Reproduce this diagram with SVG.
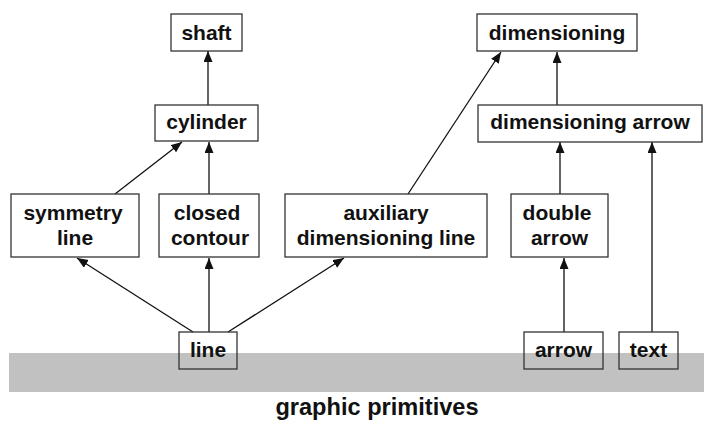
<svg xmlns="http://www.w3.org/2000/svg" width="704" height="423" viewBox="0 0 704 423">
<style>
.box{fill:none;stroke:#333;stroke-width:1.3}
.lbl{font-family:"Liberation Sans",Arial,sans-serif;font-weight:bold;font-size:21px;fill:#111;text-anchor:middle}
.edge{stroke:#111;stroke-width:1.3;fill:none;marker-end:url(#ah)}
</style>
<defs>
<marker id="ah" markerUnits="userSpaceOnUse" markerWidth="11" markerHeight="10" refX="11" refY="4.5" orient="auto">
<path d="M0,0 L11,4.5 L0,9 z" fill="#111"/>
</marker>
</defs>
<rect x="9" y="353" width="695" height="39" fill="#c0c1c0"/>
<text x="377" y="415" class="lbl" style="font-size:23.6px">graphic primitives</text>
<g id="connectors">
<line class="edge" x1="193" y1="332" x2="77" y2="258"/>
<line class="edge" x1="209" y1="332" x2="209" y2="258"/>
<line class="edge" x1="228" y1="332" x2="344" y2="258"/>
<line class="edge" x1="115" y1="194" x2="182" y2="142"/>
<line class="edge" x1="209" y1="194" x2="209" y2="142"/>
<line class="edge" x1="208" y1="105" x2="208" y2="51"/>
<line class="edge" x1="408" y1="194" x2="501" y2="52"/>
<line class="edge" x1="557" y1="105" x2="557" y2="52"/>
<line class="edge" x1="560" y1="194" x2="560" y2="142"/>
<line class="edge" x1="564" y1="332" x2="564" y2="258"/>
<line class="edge" x1="652" y1="332" x2="652" y2="142"/>
</g>
<g id="shaft"><rect class="box" x="171" y="14" width="71" height="37"/><text class="lbl" x="206.5" y="40">shaft</text></g>
<g id="dimensioning"><rect class="box" x="477" y="14" width="160" height="37"/><text class="lbl" x="557" y="40">dimensioning</text></g>
<g id="cylinder"><rect class="box" x="155" y="105" width="103" height="36"/><text class="lbl" x="206.5" y="129">cylinder</text></g>
<g id="dimensioning-arrow"><rect class="box" x="478" y="105" width="224" height="37"/><text class="lbl" x="590" y="129">dimensioning arrow</text></g>
<g id="symmetry-line"><rect class="box" x="11" y="194" width="128" height="63"/><text class="lbl" x="73" y="220">symmetry</text><text class="lbl" x="75" y="245">line</text></g>
<g id="closed-contour"><rect class="box" x="159" y="194" width="100" height="63"/><text class="lbl" x="207" y="220">closed</text><text class="lbl" x="210" y="245">contour</text></g>
<g id="auxiliary-dimensioning-line"><rect class="box" x="285" y="194" width="202" height="63"/><text class="lbl" x="386" y="220">auxiliary</text><text class="lbl" x="386" y="245">dimensioning line</text></g>
<g id="double-arrow"><rect class="box" x="511" y="194" width="97" height="63"/><text class="lbl" x="557" y="220">double</text><text class="lbl" x="559.5" y="245">arrow</text></g>
<g id="line"><rect class="box" x="179" y="332" width="58" height="37"/><text class="lbl" x="208" y="357">line</text></g>
<g id="arrow"><rect class="box" x="524" y="332" width="79" height="37"/><text class="lbl" x="563.5" y="357">arrow</text></g>
<g id="text"><rect class="box" x="619" y="332" width="59" height="37"/><text class="lbl" x="648.5" y="357">text</text></g>
</svg>
